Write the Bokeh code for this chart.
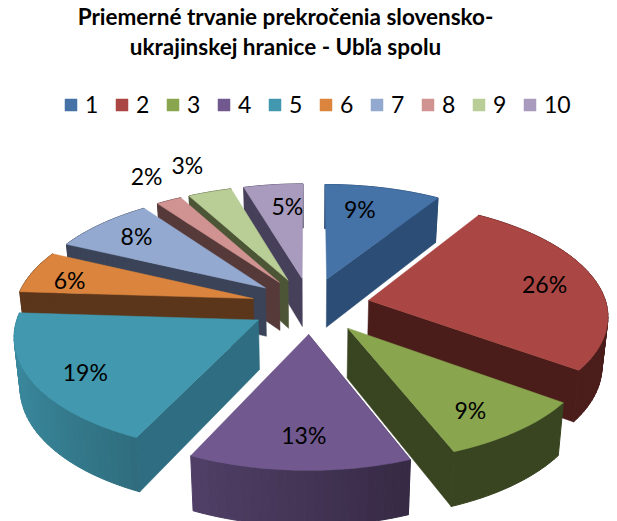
import numpy as np
from bokeh.plotting import figure
from bokeh.models import Range1d, Legend, LegendItem
from bokeh.embed import file_html
from bokeh.resources import INLINE
from bokeh.core.properties import value

title_lines = ["Priemerné trvanie prekročenia slovensko-", "ukrajinskej hranice - Ubľa spolu"]
categories = ["1", "2", "3", "4", "5", "6", "7", "8", "9", "10"]
percent = [9, 26, 9, 13, 19, 6, 8, 2, 3.4, 4.6]
colors = ["#4572A7", "#AA4643", "#89A54E", "#71588F", "#4198AF", "#DB843D", "#93A9CF", "#D19392", "#B9CD96", "#A99BBD"]
wall_colors = ["#2C4D75", "#4A1C1A", "#384520", "#3B2E4F", "#2F6E82", "#5C361A", "#3A4358", "#563A3A", "#4C5636", "#46405A"]
paint_order = [0, 9, 8, 7, 6, 5, 1, 4, 2, 3]
label_radius = [0.992, 1.024, 1.031, 1.018, 1.041, 1.068, 1.032, 1.556, 1.593, 0.997]
label_turn_deg = [-2.7, 0.0, 1.9, -0.4, -1.3, -1.5, 0.5, 1.5, 0.2, 2.0]

FONT = "Lato"
W, H = 617, 521
CX, CY, A, B, K, EXPL = 310.0, 305.0, 238.0, 112.1, 0.12, 0.25
DEPTH, SX, SY = 49.0, 0.98, 1.04


def project(px, py, bottom=False):
    px, py = np.asarray(px, float), np.asarray(py, float)
    w = 1 + K * py
    x = CX + A * px / w
    y = CY - B * py / w
    if bottom:
        x = CX + SX * (x - CX)
        y = CY + DEPTH + SY * (y - CY)
    return x, y


def shade(hex_color, f):
    c = np.array([int(hex_color[i:i + 2], 16) for i in (1, 3, 5)], float) * f
    return "#%02x%02x%02x" % tuple(int(v) for v in np.clip(c, 0, 255))


def rim_factor(x):
    return float(np.interp(x, [-1.0, -0.5, 0.0, 0.5, 1.0], [0.90, 0.74, 0.60, 0.43, 0.42]))


p = figure(width=W, height=H, output_backend="svg", toolbar_location=None,
           x_range=Range1d(0, W), y_range=Range1d(H, 0),
           min_border=0, outline_line_color=None)
p.axis.visible = False
p.grid.visible = False

pct = np.array(percent, float)
edges = np.concatenate([[0], np.cumsum(pct)]) / pct.sum() * 2 * np.pi

tops = {}
for i in paint_order:
    a0, a1 = edges[i], edges[i + 1]
    mid = (a0 + a1) / 2
    ox, oy = EXPL * np.sin(mid), EXPL * np.cos(mid)
    th = np.linspace(a0, a1, max(8, int(percent[i] * 2)))
    rx, ry = ox + np.sin(th), oy + np.cos(th)

    # visible radial wall
    e = a1 if mid < np.pi else a0
    wx = [ox, ox + np.sin(e)]
    wy = [oy, oy + np.cos(e)]
    tx, ty = project(wx, wy)
    bx, by = project(wx, wy, True)
    p.patch(list(tx) + list(bx[::-1]), list(ty) + list(by[::-1]),
            fill_color=wall_colors[i], line_color=wall_colors[i], line_width=0.5)

    # outer rim, shaded by strips
    tx, ty = project(rx, ry)
    bx, by = project(rx, ry, True)
    for j in range(len(th) - 1):
        xm = np.sin((th[j] + th[j + 1]) / 2)
        f = rim_factor(xm) if i in (3, 4) else None
        col = shade(colors[i], f) if f else wall_colors[i]
        p.patch([tx[j], tx[j + 1], bx[j + 1], bx[j]], [ty[j], ty[j + 1], by[j + 1], by[j]],
                fill_color=col, line_color=col, line_width=1)

    # top face
    fx, fy = project(np.concatenate([[ox], rx]), np.concatenate([[oy], ry]))
    tops[i] = p.patch(fx, fy, fill_color=colors[i], line_color=colors[i], line_width=0.5)

# percentage labels
mids = (edges[:-1] + edges[1:]) / 2 + np.radians(label_turn_deg)
radii = np.array(label_radius)
lx, ly = project(radii * np.sin(mids), radii * np.cos(mids))
p.text(lx, ly, text=[f"{round(v)}%" for v in percent], text_font=value(FONT), text_font_size="23px",
       text_color="#000000", text_align="center", text_baseline="middle")

# title
p.text([285, 285], [16, 46], text=title_lines, text_font=value(FONT), text_font_size="22.5px",
       text_font_style="bold", text_color="#000000", text_align="center", text_baseline="middle")

legend = Legend(items=[LegendItem(label=c, renderers=[tops[i]]) for i, c in enumerate(categories)],
                orientation="horizontal", location=(63, H - 118), glyph_width=15, glyph_height=15,
                label_height=15, label_standoff=7, spacing=9, padding=0, margin=0,
                background_fill_alpha=0, border_line_color=None,
                label_text_font=FONT, label_text_font_size="23px", label_text_color="#000000")
p.add_layout(legend, "center")

open("out.html", "w").write(file_html(p, INLINE))
